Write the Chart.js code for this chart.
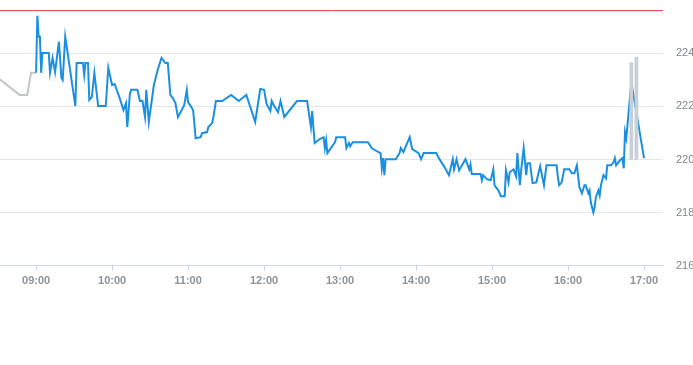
<!DOCTYPE html>
<html lang="en">
<head>
    <meta charset="UTF-8">
    <title>Intraday price</title>
    <script src="https://cdn.jsdelivr.net/npm/chart.js"></script>
    <style>
        body {
            margin: 0;
            background: #fff;
            font-family: "Liberation Sans", Arial, sans-serif;
        }
        #wrap {
            width: 693px;
            height: 365px;
        }
    </style>
</head>
<body>
    <div id="wrap"><canvas id="priceChart"></canvas></div>

    <script>
        // pre-market (grey)
        const preTimes = ["08:31", "08:47", "08:53", "08:56", "09:00"];
        const preValues = [223.03, 222.43, 222.43, 223.26, 223.26];

        // regular session (blue)
        const times = [
            "09:00", "09:01", "09:02", "09:03", "09:04", "09:05", "09:10", "09:11", "09:13", "09:15",
            "09:18", "09:20", "09:21", "09:23", "09:31", "09:32", "09:37", "09:38", "09:39", "09:41",
            "09:42", "09:44", "09:46", "09:49", "09:55", "09:57", "10:00", "10:02", "10:06", "10:09",
            "10:11", "10:12", "10:14", "10:15", "10:20", "10:22", "10:24", "10:26", "10:27", "10:29",
            "10:33", "10:36", "10:39", "10:42", "10:44", "10:46", "10:48", "10:50", "10:52", "10:55",
            "10:57", "10:59", "11:00", "11:04", "11:06", "11:10", "11:11", "11:15", "11:16", "11:19",
            "11:20", "11:22", "11:27", "11:34", "11:40", "11:46", "11:53", "11:57", "12:00", "12:02",
            "12:05", "12:06", "12:08", "12:11", "12:13", "12:16", "12:26", "12:34", "12:37", "12:38",
            "12:39", "12:40", "12:44", "12:47", "12:48", "12:49", "12:50", "12:56", "12:57", "13:04",
            "13:05", "13:07", "13:08", "13:10", "13:22", "13:25", "13:29", "13:32", "13:33", "13:34",
            "13:35", "13:36", "13:44", "13:47", "13:48", "13:50", "13:55", "13:57", "14:02", "14:04",
            "14:06", "14:16", "14:18", "14:23", "14:26", "14:29", "14:30", "14:32", "14:34", "14:39",
            "14:42", "14:43", "14:44", "14:51", "14:52", "14:53", "14:56", "14:59", "15:01", "15:02",
            "15:05", "15:07", "15:10", "15:11", "15:13", "15:14", "15:17", "15:19", "15:20", "15:22",
            "15:23", "15:25", "15:27", "15:28", "15:30", "15:32", "15:35", "15:38", "15:41", "15:43",
            "15:51", "15:52", "15:53", "15:55", "15:57", "16:01", "16:03", "16:05", "16:07", "16:09",
            "16:11", "16:13", "16:14", "16:16", "16:17", "16:18", "16:20", "16:21", "16:22", "16:24",
            "16:25", "16:26", "16:28", "16:30", "16:31", "16:34", "16:36", "16:37", "16:38", "16:41",
            "16:43", "16:44", "16:45", "16:46", "16:50", "16:51", "16:55", "17:00"
        ];
        const prices = [
            223.26, 225.41, 224.62, 224.62, 223.26, 224.01, 224.01, 223.26, 223.82, 223.29,
            224.43, 223.07, 222.99, 224.62, 222.01, 223.63, 223.63, 223.18, 223.63, 223.63,
            222.24, 222.35, 223.26, 222.01, 222.01, 223.45, 222.80, 222.84, 222.31, 221.86,
            222.12, 221.22, 222.43, 222.62, 222.62, 222.20, 222.20, 221.60, 222.62, 221.41,
            222.80, 223.37, 223.82, 223.63, 223.63, 222.43, 222.31, 222.12, 221.60, 221.86,
            222.05, 222.62, 222.16, 221.86, 220.80, 220.84, 220.99, 221.03, 221.22, 221.37,
            221.60, 222.20, 222.20, 222.43, 222.20, 222.43, 221.41, 222.65, 222.62, 222.09,
            221.82, 222.20, 222.01, 221.78, 222.20, 221.60, 222.20, 222.20, 221.22, 221.82,
            221.18, 220.62, 220.77, 220.84, 220.43, 220.73, 220.24, 220.65, 220.84, 220.84,
            220.43, 220.62, 220.50, 220.65, 220.65, 220.43, 220.31, 220.24, 219.67, 220.05,
            219.41, 220.01, 220.01, 220.24, 220.43, 220.28, 220.84, 220.39, 220.24, 220.01,
            220.24, 220.24, 220.05, 219.67, 219.41, 220.01, 219.63, 220.01, 219.59, 220.01,
            219.63, 219.82, 219.45, 219.45, 219.22, 219.41, 219.26, 219.22, 219.63, 219.03,
            218.84, 218.62, 218.62, 219.60, 219.14, 219.52, 219.63, 219.37, 220.24, 219.03,
            219.60, 220.43, 219.41, 219.86, 219.86, 219.11, 219.14, 219.75, 219.03, 219.78,
            219.78, 219.33, 219.03, 219.14, 219.63, 219.63, 219.48, 219.48, 219.78, 218.96,
            218.73, 219.03, 219.03, 218.73, 218.84, 218.39, 218.01, 218.20, 218.58, 218.84,
            218.65, 219.03, 219.41, 219.29, 219.78, 219.78, 219.90, 220.05, 219.78, 219.97,
            220.05, 219.67, 221.03, 220.80, 222.88, 222.62, 221.48, 220.05
        ];

        // grey bars near the close
        const barTimes = ["16:50", "16:54"];
        const barLows = [220, 220];
        const barHighs = [223.65, 223.85];

        // red reference level
        const refLevel = 225.6;

        const xTickLabels = ["09:00", "10:00", "11:00", "12:00", "13:00", "14:00", "15:00", "16:00", "17:00"];
        const yTicks = [216, 218, 220, 222, 224];

        function toMin(t) {
            const p = t.split(":");
            return parseInt(p[0], 10) * 60 + parseInt(p[1], 10);
        }
        function fmt(m) {
            const h = Math.floor(m / 60), mm = Math.round(m % 60);
            return String(h).padStart(2, "0") + ":" + String(mm).padStart(2, "0");
        }

        const xMin = 511.5, xMax = 1035;

        const ctx = document.getElementById('priceChart').getContext('2d');
        new Chart(ctx, {
            type: 'line',
            data: {
                datasets: [
                    {
                        type: 'bar',
                        data: barTimes.map((t, i) => ({ x: toMin(t), y: [barLows[i], barHighs[i]] })),
                        backgroundColor: '#c8cfd6',
                        barThickness: 3,
                        grouped: false,
                        order: 0
                    },
                    {
                        data: times.map((t, i) => ({ x: toMin(t), y: prices[i] })),
                        borderColor: '#1b8fe0',
                        borderWidth: 2,
                        pointRadius: 0,
                        tension: 0,
                        order: 1
                    },
                    {
                        data: preTimes.map((t, i) => ({ x: toMin(t), y: preValues[i] })),
                        borderColor: '#c2c6cb',
                        borderWidth: 2,
                        pointRadius: 0,
                        tension: 0,
                        order: 2
                    },
                    {
                        data: [{ x: xMin, y: refLevel }, { x: xMax, y: refLevel }],
                        borderColor: '#e0363b',
                        borderWidth: 1,
                        pointRadius: 0,
                        order: 3
                    }
                ]
            },
            options: {
                responsive: true,
                maintainAspectRatio: false,
                animation: false,
                layout: { autoPadding: false, padding: { top: 0, right: 0, bottom: 73, left: 0 } },
                plugins: {
                    legend: { display: false },
                    tooltip: { enabled: false }
                },
                scales: {
                    x: {
                        type: 'linear',
                        min: xMin,
                        max: xMax,
                        offset: false,
                        afterBuildTicks: axis => {
                            axis.ticks = xTickLabels.map(t => ({ value: toMin(t) }));
                        },
                        grid: { drawOnChartArea: false, color: '#ccd6eb', tickLength: 5, offset: false },
                        border: { color: '#ccd6eb' },
                        ticks: {
                            color: '#8c939b',
                            font: { family: 'Liberation Sans', size: 11, weight: 'bold' },
                            padding: 4,
                            maxRotation: 0,
                            autoSkip: false,
                            callback: v => fmt(v)
                        }
                    },
                    y: {
                        position: 'right',
                        min: 216,
                        max: 226,
                        afterBuildTicks: axis => {
                            axis.ticks = yTicks.map(v => ({ value: v }));
                        },
                        afterFit: axis => {
                            axis.width = 30;
                            axis.paddingTop = 0;
                            axis.paddingBottom = 0;
                        },
                        grid: { color: '#e6e6e6', drawTicks: false },
                        border: { display: false },
                        ticks: {
                            color: '#80878f',
                            font: { family: 'Liberation Sans', size: 11 },
                            padding: 13
                        }
                    }
                }
            }
        });
    </script>
</body>
</html>
